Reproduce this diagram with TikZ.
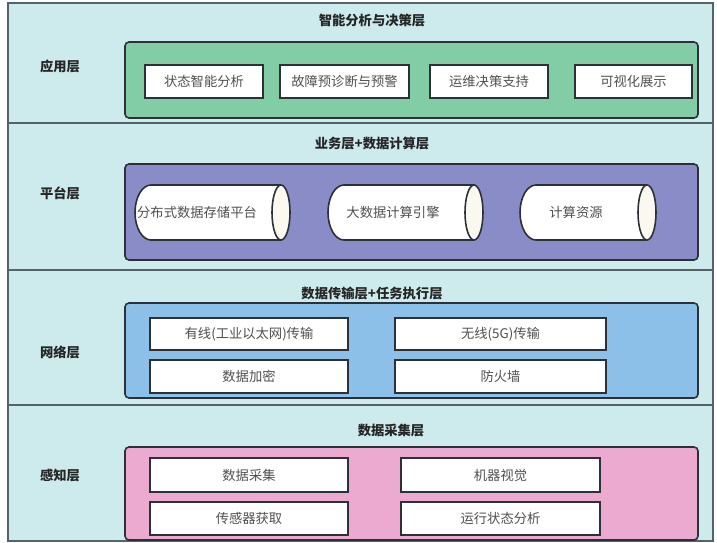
\documentclass[tikz,border=0pt]{standalone}
\usepackage{fontspec}
\setmainfont{Noto Sans CJK SC}
\definecolor{bgc}{HTML}{CDEAEC}
\definecolor{grn}{HTML}{82CCA6}
\definecolor{pur}{HTML}{8A8CC8}
\definecolor{blu}{HTML}{8CC0E8}
\definecolor{pnk}{HTML}{ECAAD0}
\definecolor{edge}{HTML}{2B3136}
\definecolor{lay}{HTML}{56626A}
\definecolor{txt}{HTML}{505050}
\definecolor{capc}{HTML}{FBF8F0}
\begin{document}
\begin{tikzpicture}[x=1pt,y=-1pt,
  layer/.style={draw=lay,line width=1.3pt,fill=bgc},
  panel/.style={draw=edge,line width=1.6pt,rounded corners=4pt},
  ibox/.style={draw=edge,line width=2pt,fill=white,inner sep=0pt,text=txt,font=\fontsize{13.3}{15}\selectfont},
  ttl/.style={text=black!85,font=\fontsize{13.3}{15}\selectfont\bfseries},
  lbl/.style={text=black!85,font=\fontsize{13.3}{15}\selectfont\bfseries},
  ctext/.style={text=txt,font=\fontsize{13.3}{15}\selectfont,inner sep=0pt},
  cyl/.style={draw=edge,line width=1.6pt,fill=white}]
\useasboundingbox (0,0) rectangle (717,543);
\fill[white] (0,0) rectangle (717,543);
% layers
\draw[layer] (8,3) rectangle (713,123);
\draw[layer] (8,123) rectangle (713,270);
\draw[layer] (8,270) rectangle (713,405);
\draw[layer] (8,405) rectangle (713,541);
% layer 1
\node[ttl] (t1) at (372,20) {智能分析与决策层};
\node[lbl] (l1) at (60,66) {应用层};
\draw[panel,fill=grn] (125,42) rectangle (698,118);
\node[ibox,minimum width=118pt,minimum height=33pt] (a1) at (204,81.5) {状态智能分析};
\node[ibox,minimum width=129pt,minimum height=33pt] (a2) at (344.5,81.5) {故障预诊断与预警};
\node[ibox,minimum width=118pt,minimum height=33pt] (a3) at (489,81.5) {运维决策支持};
\node[ibox,minimum width=117pt,minimum height=33pt] (a4) at (633.5,81.5) {可视化展示};
% layer 2
\node[ttl] (t2) at (372,143) {业务层+数据计算层};
\node[lbl] (l2) at (60,193) {平台层};
\draw[panel,fill=pur] (125,164) rectangle (698,260);
% cylinders
\foreach \xa/\xb/\nm in {135/290/c1, 328/483/c2, 520/656/c3}{
  \draw[cyl] (\xb-9,185) -- (\xa+16,185) arc (90:270:16pt and 27.5pt) -- (\xb-9,240);
  \draw[cyl,fill=capc] (\xb-9,212.5) ellipse [x radius=9pt, y radius=27.5pt];
}
\node[ctext] (p1) at (197,212.5) {分布式数据存储平台};
\node[ctext] (p2) at (393,212.5) {大数据计算引擎};
\node[ctext] (p3) at (576,212.5) {计算资源};
% layer 3
\node[ttl] (t3) at (372,293) {数据传输层+任务执行层};
\node[lbl] (l3) at (60,352) {网络层};
\draw[panel,fill=blu] (125,303) rectangle (698,398);
\node[ibox,minimum width=198pt,minimum height=32pt] (n1) at (249,334) {有线(工业以太网)传输};
\node[ibox,minimum width=211pt,minimum height=32pt] (n2) at (500.5,334) {无线(5G)传输};
\node[ibox,minimum width=198pt,minimum height=33pt] (n3) at (249,376.5) {数据加密};
\node[ibox,minimum width=211pt,minimum height=33pt] (n4) at (500.5,376.5) {防火墙};
% layer 4
\node[ttl] (t4) at (391,430) {数据采集层};
\node[lbl] (l4) at (60,475) {感知层};
\draw[panel,fill=pnk] (125,447) rectangle (698,540);
\node[ibox,minimum width=198pt,minimum height=34pt] (s1) at (249,475) {数据采集};
\node[ibox,minimum width=199pt,minimum height=34pt] (s2) at (500.5,475) {机器视觉};
\node[ibox,minimum width=198pt,minimum height=33pt] (s3) at (249,518.5) {传感器获取};
\node[ibox,minimum width=199pt,minimum height=33pt] (s4) at (500.5,518.5) {运行状态分析};
\end{tikzpicture}
\end{document}
